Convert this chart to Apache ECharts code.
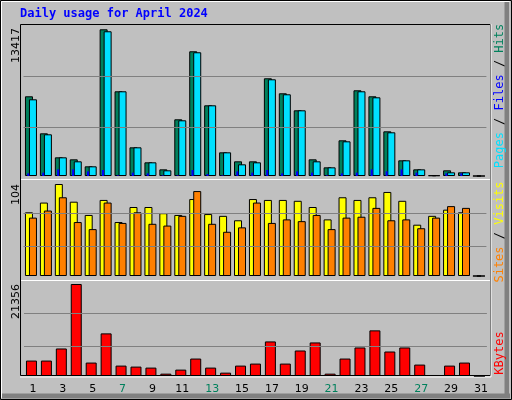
<!DOCTYPE html>
<html><head><meta charset="utf-8">
<script src="https://cdn.jsdelivr.net/npm/echarts@6/dist/echarts.min.js"></script>
<style>html,body{margin:0;padding:0;background:#c0c0c0}#c{width:512px;height:400px}</style>
</head><body><div id="c"></div>
<script>
// daily values
const days = ['1','2','3','4','5','6','7','8','9','10','11','12','13','14','15','16','17','18','19','20','21','22','23','24','25','26','27','28','29','30','31'];
const weekend = ['6','7','13','14','20','21','27','28'];
const hits = [7290,3904,1708,1525,885,13417,7747,2623,1251,610,5185,11407,6466,2166,1342,1342,8937,7564,6009,1525,793,3264,7839,7290,4087,1434,610,61,519,336,0];
const files = [7015,3813,1708,1342,885,13237,7747,2623,1251,519,5094,11316,6466,2166,1068,1251,8845,7473,6009,1342,793,3172,7747,7198,3996,1434,610,61,336,336,0];
const pages = [244,305,610,610,427,549,61,305,244,61,61,549,183,61,427,305,549,244,427,305,61,244,305,610,427,610,305,0,244,244,0];
const visits = [72,83,104,84,69,86,61,78,78,71,69,87,70,68,63,87,86,86,85,78,64,89,86,89,95,85,58,68,75,72,0];
const sites = [66,74,89,61,53,83,60,72,59,57,68,96,59,50,55,83,60,64,62,69,53,66,67,77,63,64,54,66,79,77,0];
const kbytes = [3583,3583,6388,21356,3116,9893,2415,2181,1948,545,1480,4051,1948,779,2415,2882,8024,2882,5920,7790,545,4051,6622,10594,5687,6622,2649,234,2415,3116,0];
const topLines = [4445, 9100];
const midLines = [33.6, 70.9];
const botLines = [6894, 14555];

const chart = echarts.init(document.getElementById('c'));
const border = {borderColor: '#000', borderWidth: 1};
function lines(vals) {
  return {silent: true, symbol: 'none', label: {show: false},
    lineStyle: {color: '#808080', type: 'solid', width: 1},
    data: vals.map(v => ({yAxis: v}))};
}
function xa(grid, show) {
  return {type: 'category', data: days, gridIndex: grid, boundaryGap: true,
    axisLine: {show: false}, axisTick: {show: false}, splitLine: {show: false},
    axisLabel: show ? {show: true, fontFamily: 'DejaVu Sans', fontSize: 11, margin: 8, padding: [0, 0, 0, 3],
      color: (v) => weekend.includes(v) ? '#00805c' : '#000'} : {show: false}};
}
function ya(grid, max) {
  return {type: 'value', gridIndex: grid, min: 0, max: max, show: false, splitLine: {show: false}};
}
const rot = Math.PI / 2;
const font = '12px "DejaVu Sans Mono"';
chart.setOption({
  backgroundColor: '#c0c0c0',
  animation: false,
  grid: [
    {left: 23.5, right: 25.6, top: 29.3, height: 146.7},
    {left: 20.8, right: 28.3, top: 29.3, height: 146.7},
    {left: 23.5, right: 25.6, top: 184, height: 92},
    {left: 24, right: 25.1, top: 284, height: 92}
  ],
  xAxis: [xa(0, false), xa(1, false), xa(2, false), xa(3, true)],
  yAxis: [ya(0, 13417), ya(1, 13417), ya(2, 104), ya(3, 21356)],
  series: [
    {type: 'bar', xAxisIndex: 0, yAxisIndex: 0, data: hits, barWidth: 8, barGap: '-50%', z: 3,
      itemStyle: Object.assign({color: '#00805c'}, border), markLine: lines(topLines)},
    {type: 'bar', xAxisIndex: 0, yAxisIndex: 0, data: files, barWidth: 8, z: 4,
      itemStyle: Object.assign({color: '#00e0ff'}, border)},
    {type: 'bar', xAxisIndex: 1, yAxisIndex: 1, data: pages, barWidth: 2, z: 5,
      itemStyle: {color: '#0000ff'}},
    {type: 'bar', xAxisIndex: 2, yAxisIndex: 2, data: visits, barWidth: 8, barGap: '-50%', z: 3,
      itemStyle: Object.assign({color: '#ffff00'}, border), markLine: lines(midLines)},
    {type: 'bar', xAxisIndex: 2, yAxisIndex: 2, data: sites, barWidth: 8, z: 4,
      itemStyle: Object.assign({color: '#ff8000'}, border)},
    {type: 'bar', xAxisIndex: 3, yAxisIndex: 3, data: kbytes, barWidth: 11, z: 3,
      itemStyle: Object.assign({color: '#ff0000'}, border), markLine: lines(botLines)}
  ],
  graphic: [
    {type: 'rect', shape: {x: 0.5, y: 0.5, width: 511, height: 399}, style: {fill: null, stroke: '#000', lineWidth: 1}, z: 0},
    {type: 'rect', shape: {x: 1.5, y: 1.5, width: 508, height: 396}, style: {fill: null, stroke: '#fff', lineWidth: 1}, z: 0},
    {type: 'rect', shape: {x: 504.5, y: 2, width: 5, height: 396}, style: {fill: '#808080'}, z: 0},
    {type: 'rect', shape: {x: 2, y: 393.5, width: 508, height: 5}, style: {fill: '#808080'}, z: 0},
    {type: 'rect', shape: {x: 20.5, y: 24.5, width: 470, height: 351}, style: {fill: null, stroke: '#000', lineWidth: 1}, z: 0},
    {type: 'line', shape: {x1: 491, y1: 24, x2: 491, y2: 377}, style: {stroke: '#fff', lineWidth: 1}, z: 0},
    {type: 'line', shape: {x1: 20, y1: 377, x2: 491, y2: 377}, style: {stroke: '#fff', lineWidth: 1}, z: 0},
    {type: 'line', shape: {x1: 21, y1: 179.5, x2: 490, y2: 179.5}, style: {stroke: '#fff', lineWidth: 1}, z: 10},
    {type: 'line', shape: {x1: 21, y1: 280.5, x2: 490, y2: 280.5}, style: {stroke: '#fff', lineWidth: 1}, z: 10},
    {type: 'text', left: 20, top: 8, style: {text: 'Daily usage for April 2024', fill: '#0000ff', font: 'bold 12px "DejaVu Sans Mono"'}},
    {type: 'text', x: 16, y: 28, rotation: rot, style: {text: '13417', fill: '#000', font: '11px "DejaVu Sans"', align: 'right', verticalAlign: 'middle'}},
    {type: 'text', x: 16, y: 184, rotation: rot, style: {text: '104', fill: '#000', font: '11px "DejaVu Sans"', align: 'right', verticalAlign: 'middle'}},
    {type: 'text', x: 16, y: 284, rotation: rot, style: {text: '21356', fill: '#000', font: '11px "DejaVu Sans"', align: 'right', verticalAlign: 'middle'}},
    {type: 'text', x: 500, y: 96, rotation: rot, style: {text: '{p|Pages} / {f|Files} / {h|Hits}', font: font, fill: '#000', align: 'center', verticalAlign: 'middle',
      rich: {p: {fill: '#00e0ff', font: font}, f: {fill: '#0000ff', font: font}, h: {fill: '#00805c', font: font}}}},
    {type: 'text', x: 500, y: 232, rotation: rot, style: {text: '{s|Sites} / {v|Visits}', font: font, fill: '#000', align: 'center', verticalAlign: 'middle',
      rich: {s: {fill: '#ff8000', font: font}, v: {fill: '#ffff00', font: font}}}},
    {type: 'text', x: 500, y: 353, rotation: rot, style: {text: 'KBytes', font: font, fill: '#ff0000', align: 'center', verticalAlign: 'middle'}}
  ]
});
</script>
</body></html>
